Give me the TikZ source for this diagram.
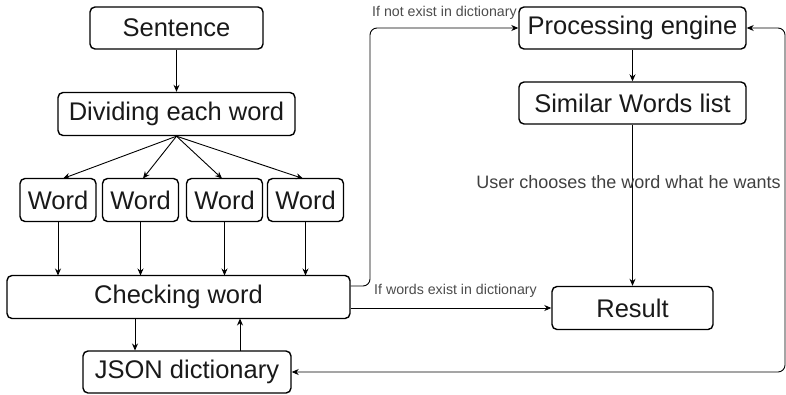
\documentclass[tikz,border=0pt]{standalone}
\usepackage{fontspec}
\setmainfont{Liberation Sans}
\usetikzlibrary{arrows.meta}
\begin{document}
\begin{tikzpicture}[x=1pt,y=-1pt,
  box/.style={draw,line width=1.4pt,rounded corners=5pt,inner sep=0pt,
    font=\fontsize{25.5}{28}\selectfont,text=black!90},
  conn/.style={line width=0.9pt,-{Stealth[length=7pt,width=6pt]}},
  lbl/.style={font=\fontsize{14.2}{15}\selectfont,text=black!70,inner sep=0pt},
  ]
\useasboundingbox (0,0) rectangle (786,394);
\node[box,minimum width=173pt,minimum height=42pt] (sent) at (176.5,28) {Sentence};
\node[box,minimum width=237pt,minimum height=43pt] (div) at (176.5,114) {Dividing each word};
\node[box,minimum width=76pt,minimum height=43pt] (w1) at (58,200) {Word};
\node[box,minimum width=76pt,minimum height=43pt] (w2) at (140.5,200) {Word};
\node[box,minimum width=76pt,minimum height=43pt] (w3) at (224.5,200) {Word};
\node[box,minimum width=76pt,minimum height=43pt] (w4) at (305.5,200) {Word};
\node[box,minimum width=343pt,minimum height=43pt] (chk) at (178.5,297) {Checking word};
\node[box,minimum width=208pt,minimum height=42pt] (json) at (187,372) {JSON dictionary};
\node[box,minimum width=227pt,minimum height=42pt] (proc) at (632.5,28) {Processing engine};
\node[box,minimum width=227pt,minimum height=42pt] (sim) at (632.5,103) {Similar Words list};
\node[box,minimum width=161pt,minimum height=43pt] (res) at (632.5,308) {Result};

\draw[conn] (sent) -- (div);
\foreach \w/\x in {w1/63,w2/143,w3/222,w4/303}
  \draw[conn] (div.south) -- (\x,178.5);
\foreach \w/\x in {w1/58,w2/140.5,w3/224.5,w4/305.5}
  \draw[conn] (\w.south) -- (\x,275.5);
\draw[conn] (135,318.5) -- (135,350.5);
\draw[conn] (240,350.5) -- (240,318.5);
\draw[conn,rounded corners=7pt] (chk.east |- 0,286) -- (370,286) -- (370,28) -- (proc.west);
\node[lbl,anchor=south west] (l1) at (372,20) {If not exist in dictionary};
\draw[conn] (chk.east |- 0,308) -- (res.west);
\node[lbl,anchor=south west] (l2) at (374,298) {If words exist in dictionary};
\draw[conn] (proc) -- (sim);
\draw[conn] (sim) -- (res);
\node[font=\fontsize{18}{20}\selectfont,text=black!75,inner sep=0pt] (l3) at (628.5,182) {User chooses the word what he wants};
\coordinate (rt) at (785,28);
\coordinate (rb) at (785,372);
\draw[line width=0.9pt,{Stealth[length=7pt,width=6pt]}-{Stealth[length=7pt,width=6pt]},rounded corners=7pt]
  (proc.east) -- (rt) -- (rb) -- (json.east);
\end{tikzpicture}
\end{document}
